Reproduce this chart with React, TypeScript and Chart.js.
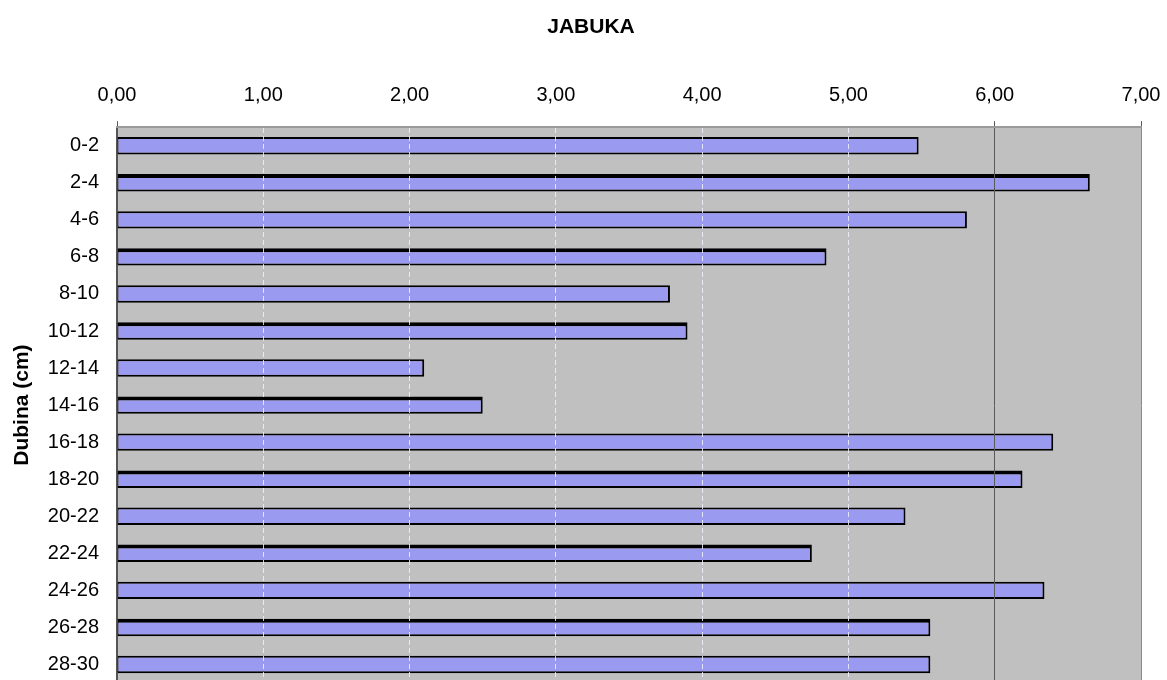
import React, { useEffect, useRef } from "react";
import { Chart, registerables } from "chart.js";

Chart.register(...registerables);

const chartTitle = "JABUKA";
const axisTitle = "Dubina (cm)";
const depths = ["0-2", "2-4", "4-6", "6-8", "8-10", "10-12", "12-14", "14-16", "16-18", "18-20", "20-22", "22-24", "24-26", "26-28", "28-30"];
const values = [5.48, 6.65, 5.81, 4.85, 3.78, 3.9, 2.1, 2.5, 6.4, 6.19, 5.39, 4.75, 6.34, 5.56, 5.56];
const xMin = 0;
const xMax = 7;
const xStep = 1;

const FONT = "'Liberation Sans', Arial, sans-serif";

const plotBg = {
  id: "plotBg",
  beforeDraw(chart: any) {
    const { ctx, chartArea } = chart;
    if (!chartArea) return;
    ctx.save();
    ctx.fillStyle = "#c0c0c0";
    ctx.fillRect(chartArea.left, chartArea.top, chartArea.right - chartArea.left, chartArea.bottom - chartArea.top);
    ctx.restore();
  },
};

export default function App() {
  const ref = useRef<HTMLCanvasElement | null>(null);

  useEffect(() => {
    document.body.style.margin = "0";
    document.documentElement.style.overflow = "hidden";
    const canvas = ref.current;
    if (!canvas) return;
    const chart = new Chart(canvas, {
      type: "bar",
      data: {
        labels: depths,
        datasets: [
          {
            data: values,
            backgroundColor: "#9a9af0",
            borderColor: "#000000",
            borderSkipped: false,
            borderWidth: (ctx: any) =>
              ctx.dataIndex % 2 === 1
                ? { top: 4, right: 2, bottom: 2, left: 1 }
                : { top: 2, right: 2, bottom: 2, left: 1 },
            barPercentage: 0.47,
            categoryPercentage: 1,
          },
        ],
      },
      plugins: [plotBg],
      options: {
        indexAxis: "y",
        animation: false,
        responsive: false,
        maintainAspectRatio: false,
        layout: { padding: { left: 33, right: 26, top: 0, bottom: 8 } },
        plugins: {
          legend: { display: false },
          tooltip: { enabled: false },
          title: {
            display: true,
            text: chartTitle,
            color: "#000",
            font: { family: FONT, size: 21, weight: "bold" },
            padding: { top: 15, bottom: 29 },
          },
        },
        scales: {
          x: {
            position: "top",
            min: xMin,
            max: xMax,
            afterFit: (scale: any) => {
              scale.paddingLeft = 0;
              scale.paddingRight = 0;
            },
            ticks: {
              stepSize: xStep,
              color: "#000",
              padding: 14,
              font: { family: FONT, size: 20 },
              callback: (v: any) => Number(v).toFixed(2).replace(".", ","),
            },
            grid: {
              z: 1,
              tickLength: 6,
              color: (ctx: any) => {
                const v = ctx.tick ? ctx.tick.value : 0;
                if (v === 6) return "#5a5a5a";
                if (v === 7) return "#8a8a8a";
                if (v === 0) return "rgba(0,0,0,0)";
                return "rgba(240,240,255,0.85)";
              },
              tickColor: (ctx: any) => {
                const v = ctx.tick ? ctx.tick.value : 0;
                if (v === 0 || v === 6 || v === 7) return "#555";
                return "rgba(255,255,255,0)";
              },
            },
            border: {
              display: true,
              z: 1,
              color: "#9a9a9a",
              width: 2,
              dash: (ctx: any) => {
                const v = ctx.tick ? ctx.tick.value : 0;
                return v >= 1 && v <= 5 ? [5, 3] : [];
              },
            } as any,
          },
          y: {
            afterFit: (scale: any) => {
              scale.width = 76;
            },
            ticks: {
              color: "#000",
              padding: 18,
              font: { family: FONT, size: 20 },
            },
            grid: { display: false, drawTicks: false },
            border: { display: true, color: "#555", width: 2 },
            title: {
              display: true,
              text: axisTitle,
              color: "#000",
              font: { family: FONT, size: 21, weight: "bold" },
              padding: { top: -31, bottom: 0 },
            },
          },
        },
      } as any,
    });
    return () => chart.destroy();
  }, []);

  return (
    <div style={{ position: "relative", width: 1167, height: 680, overflow: "hidden" }}>
      <canvas ref={ref} width={1159} height={713} style={{ position: "absolute", left: 8, top: 0 }} />
    </div>
  );
}
